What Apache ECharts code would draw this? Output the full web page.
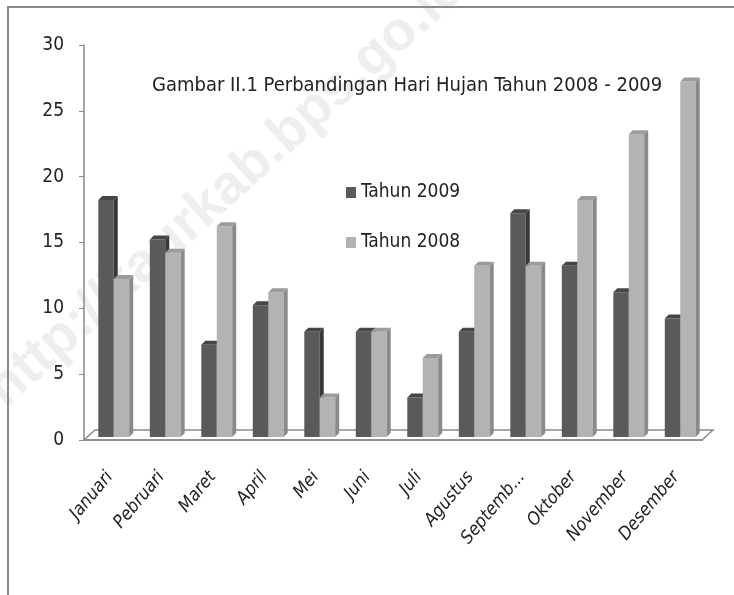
<!DOCTYPE html>
<html>
<head>
<meta charset="utf-8">
<script src="https://cdn.jsdelivr.net/npm/echarts@6/dist/echarts.min.js"></script>
<style>
  html, body { margin: 0; padding: 0; background: #fff; }
  #chart { width: 734px; height: 595px; }
</style>
</head>
<body>
<div id="chart"></div>
<script>
const months = ['Januari', 'Pebruari', 'Maret', 'April', 'Mei', 'Juni', 'Juli', 'Agustus', 'September', 'Oktober', 'November', 'Desember'];
const tahun2009 = [18, 15, 7, 10, 8, 8, 3, 8, 17, 13, 11, 9];
const tahun2008 = [12, 14, 16, 11, 3, 8, 6, 13, 13, 18, 23, 27];
const yMin = 0, yMax = 30, yStep = 5;

const font = "'DejaVu Sans Condensed', 'Liberation Sans Narrow', sans-serif";
const gridLeft = 84, gridRight = 32, gridTop = 45, gridBottom = 155;
const W = 734, H = 595;

// warna: depan, samping, atas
const shades = [
  ['#5a5a5a', '#383838', '#464646'],
  ['#b3b3b3', '#8a8a8a', '#9c9c9c']
];

function bar3d(s) {
  return function (params, api) {
    const idx = api.value(0);
    const top = api.coord([idx, api.value(1)]);
    const base = api.coord([idx, 0]);
    const band = api.size([1, 0])[0];
    const w = band * 0.3, d = 4, lift = 3, shift = 4;
    const x0 = top[0] + shift - (s === 0 ? w : 0);
    const yt = top[1] - lift, yb = base[1] - lift;
    const c = shades[s];
    return {
      type: 'group',
      children: [
        { type: 'rect', shape: { x: x0, y: yt, width: w, height: yb - yt }, style: { fill: c[0] } },
        { type: 'polygon', shape: { points: [[x0 + w, yt], [x0 + w + d, yt - d], [x0 + w + d, yb - d], [x0 + w, yb]] }, style: { fill: c[1] } },
        { type: 'polygon', shape: { points: [[x0, yt], [x0 + d, yt - d], [x0 + w + d, yt - d], [x0 + w, yt]] }, style: { fill: c[2] } }
      ]
    };
  };
}

const chart = echarts.init(document.getElementById('chart'));

const fx0 = gridLeft, fx1 = W - gridRight, fy = H - gridBottom, dx = 11, dy = -10;

const option = {
  backgroundColor: '#fff',
  animation: false,
  title: {
    text: 'Gambar II.1 Perbandingan Hari Hujan Tahun 2008 - 2009',
    left: 147,
    top: 71,
    textStyle: { fontFamily: font, fontSize: 20, fontWeight: 'normal', color: '#222' }
  },
  legend: {
    orient: 'vertical',
    left: 341,
    top: 178,
    itemWidth: 10,
    itemHeight: 11,
    itemGap: 31,
    icon: 'rect',
    textStyle: { fontFamily: font, fontSize: 19, color: '#222' },
    data: ['Tahun 2009', 'Tahun 2008']
  },
  grid: { left: gridLeft, right: gridRight, top: gridTop, bottom: gridBottom },
  xAxis: {
    type: 'category',
    data: months,
    axisLine: { lineStyle: { color: '#8a8a8a', width: 1.5 } },
    axisTick: { alignWithLabel: false, length: 8, lineStyle: { color: '#8a8a8a' } },
    axisLabel: {
      rotate: 50,
      margin: 34,
      fontFamily: font,
      fontSize: 18,
      fontStyle: 'italic',
      color: '#222',
      formatter: v => v.length > 8 ? v.slice(0, 7) + '...' : v
    }
  },
  yAxis: {
    type: 'value',
    min: yMin,
    max: yMax,
    interval: yStep,
    axisLine: { show: true, lineStyle: { color: '#8a8a8a', width: 1.5 } },
    axisTick: { show: true, length: 5, lineStyle: { color: '#8a8a8a' } },
    axisLabel: { fontFamily: font, fontSize: 19, color: '#222', margin: 20 },
    splitLine: { show: false }
  },
  graphic: [
    {
      type: 'text', z: -10,
      x: 227, y: 189, rotation: 42 * Math.PI / 180,
      style: {
        text: 'http://kaurkab.bps.go.id', x: 0, y: 0, align: 'center', verticalAlign: 'middle',
        fill: '#eeeeee', font: 'bold 55px Arial, sans-serif'
      }
    },
    {
      type: 'polygon', z: -5,
      shape: { points: [[fx0, fy], [fx1, fy], [fx1 + dx, fy + dy], [fx0 + dx, fy + dy]] },
      style: { fill: 'none', stroke: '#8a8a8a', lineWidth: 1.5 }
    },
    {
      type: 'rect', z: -5,
      shape: { x: 8, y: 7, width: 800, height: 700 },
      style: { fill: 'none', stroke: '#8a8a8a', lineWidth: 2 }
    }
  ],
  series: [
    {
      name: 'Tahun 2009',
      type: 'custom',
      itemStyle: { color: shades[0][0] },
      renderItem: bar3d(0),
      encode: { x: 0, y: 1 },
      data: months.map((m, i) => [i, tahun2009[i]])
    },
    {
      name: 'Tahun 2008',
      type: 'custom',
      itemStyle: { color: shades[1][0] },
      renderItem: bar3d(1),
      encode: { x: 0, y: 1 },
      data: months.map((m, i) => [i, tahun2008[i]])
    }
  ]
};

chart.setOption(option);
window.addEventListener('resize', function () {
  chart.resize();
});
</script>
</body>
</html>
